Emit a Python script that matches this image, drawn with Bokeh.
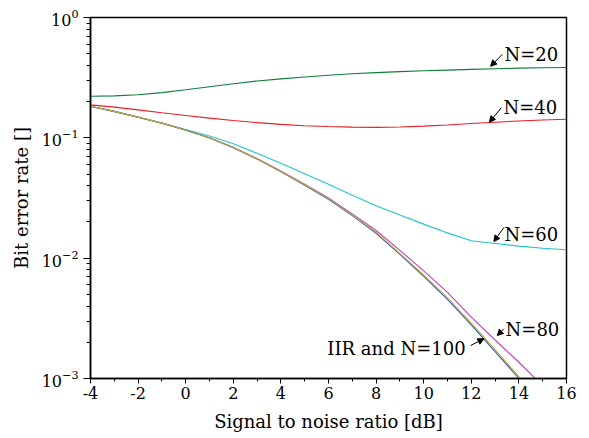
import numpy as np
from bokeh.plotting import figure
from bokeh.models import Range1d, Label, Arrow, NormalHead, SingleIntervalTicker, LogTickFormatter
from bokeh.embed import file_html
from bokeh.resources import INLINE

# ---- data ----
snr_db = [-4, -3, -2, -1, 0, 1, 2, 3, 4, 5, 6, 7, 8, 9, 10, 11, 12, 13, 14, 15, 16]

log10_ber_n20 = [-0.654, -0.651, -0.642, -0.624, -0.600, -0.575, -0.550, -0.528, -0.510, -0.494, -0.480,
                 -0.468, -0.458, -0.450, -0.443, -0.437, -0.431, -0.426, -0.421, -0.418, -0.416]
log10_ber_n40 = [-0.726, -0.745, -0.768, -0.792, -0.815, -0.836, -0.856, -0.874, -0.888, -0.899, -0.906,
                 -0.911, -0.913, -0.910, -0.903, -0.893, -0.881, -0.870, -0.860, -0.852, -0.845]
log10_ber_n60 = [-0.737, -0.783, -0.829, -0.876, -0.930, -0.985, -1.050, -1.128, -1.212, -1.298, -1.386,
                 -1.478, -1.565, -1.642, -1.717, -1.790, -1.855, -1.878, -1.900, -1.918, -1.930]
log10_ber_n80 = [-0.737, -0.780, -0.828, -0.878, -0.935, -1.000, -1.078, -1.172, -1.276, -1.385, -1.500,
                 -1.632, -1.770, -1.935, -2.105, -2.285, -2.490, -2.680, -2.865, -3.060]
log10_ber_iir = [-0.737, -0.780, -0.829, -0.879, -0.936, -1.002, -1.082, -1.177, -1.283, -1.394, -1.510,
                 -1.646, -1.793, -1.969, -2.152, -2.343, -2.554, -2.776, -3.000, -3.240]
log10_ber_n100 = [-0.737, -0.780, -0.828, -0.878, -0.935, -1.000, -1.080, -1.175, -1.280, -1.390, -1.505,
                  -1.640, -1.785, -1.960, -2.140, -2.330, -2.540, -2.760, -2.985, -3.220]

series_names = ["N=20", "N=40", "N=60", "N=80", "IIR", "N=100"]
series_colors = ["#0e7d3c", "#ee1c24", "#22c4c8", "#c23fc2", "#2f4fd0", "#b8b428"]

xtick_values = [-4, -2, 0, 2, 4, 6, 8, 10, 12, 14, 16]
xtick_labels = ["-4", "-2", "0", "2", "4", "6", "8", "10", "12", "14", "16"]

# annotations: text anchor (x, log10 y), arrow tail and head (x, log10 y)
ann_text = ["N=20", "N=40", "N=60", "N=80", "IIR and N=100"]
ann_align = ["left", "left", "left", "left", "right"]
ann_x = [13.39, 13.35, 13.39, 13.44, 11.76]
ann_logy = [-0.307, -0.752, -1.801, -2.593, -2.747]
arrow_tail_x = [13.30, 13.26, 13.37, 13.37, 11.97]
arrow_tail_logy = [-0.307, -0.750, -1.745, -2.587, -2.726]
arrow_head_x = [12.81, 12.76, 12.95, 13.09, 12.53]
arrow_head_logy = [-0.405, -0.870, -1.862, -2.643, -2.670]

FONT = "DejaVu Serif"

p = figure(width=580, height=438, x_range=Range1d(-4, 16), y_range=Range1d(1e-3, 1.0),
           y_axis_type="log", output_backend="svg", toolbar_location=None,
           min_border_left=90, min_border_right=14, min_border_top=17, min_border_bottom=60)
p.grid.visible = False
p.outline_line_color = "black"
p.outline_line_width = 1.5
p.background_fill_color = "white"
p.border_fill_color = "white"

series = [log10_ber_n20, log10_ber_n40, log10_ber_n60, log10_ber_n80, log10_ber_iir, log10_ber_n100]
for name, col, vals in zip(series_names, series_colors, series):
    xs = snr_db[:len(vals)]
    p.line(xs, np.power(10.0, np.array(vals)), line_color=col, line_width=1.1)

# axes
p.xaxis.ticker = SingleIntervalTicker(interval=2, num_minor_ticks=2)
p.xaxis.major_label_overrides = {v: s for v, s in zip(xtick_values, xtick_labels)}
for ax in (p.xaxis[0], p.yaxis[0]):
    ax.axis_line_color = "black"
    ax.axis_line_width = 1.5
    ax.major_tick_line_color = "black"
    ax.minor_tick_line_color = "black"
    ax.major_tick_in = 0
    ax.minor_tick_in = 0
    ax.major_label_text_font = FONT
    ax.major_label_text_color = "black"
    ax.axis_label_text_font = FONT
    ax.axis_label_text_font_style = "normal"
    ax.axis_label_text_color = "black"
    ax.axis_label_text_font_size = "18px"

p.xaxis.axis_label = "Signal to noise ratio [dB]"
p.xaxis.major_tick_out = 5
p.xaxis.minor_tick_out = 3
p.xaxis.major_label_text_font_size = "16px"
p.xaxis.major_label_standoff = 3
p.xaxis.axis_label_standoff = 9

p.yaxis.axis_label = "Bit error rate []"
p.yaxis.major_tick_out = 7
p.yaxis.minor_tick_out = 4
p.yaxis.formatter = LogTickFormatter()
p.yaxis.major_label_text_font_size = "16px"
p.yaxis.major_label_standoff = 5
p.yaxis.axis_label_standoff = 7

# annotations
for t, al, x, ly, tx, tly, hx, hly in zip(ann_text, ann_align, ann_x, ann_logy, arrow_tail_x,
                                          arrow_tail_logy, arrow_head_x, arrow_head_logy):
    p.add_layout(Label(x=x, y=10 ** ly, text=t, text_align=al, text_baseline="middle",
                       text_font=FONT, text_font_size="18px", text_color="black"))
    p.add_layout(Arrow(x_start=tx, y_start=10 ** tly, x_end=hx, y_end=10 ** hly,
                       line_color="black", line_width=1,
                       end=NormalHead(size=6, fill_color="black", line_color="black", line_width=1)))

open("out.html", "w").write(file_html(p, INLINE))
